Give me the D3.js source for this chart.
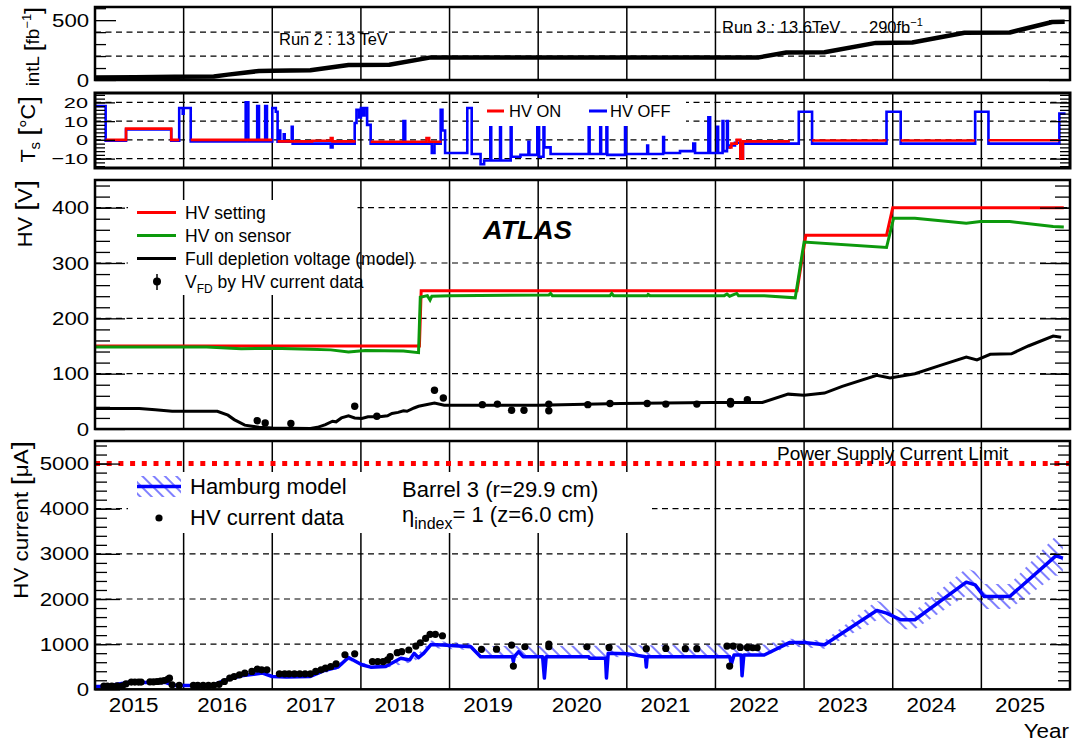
<!DOCTYPE html>
<html><head><meta charset="utf-8">
<script src="https://cdn.jsdelivr.net/npm/d3@7"></script>
<style>body{margin:0;background:#fff}svg{display:block}</style>
</head><body><svg id="c" width="1072" height="745"></svg>
<script>
// ---------------- DATA ----------------
const years = [2015,2016,2017,2018,2019,2020,2021,2022,2023,2024,2025];
const yearLines = [2016,2017,2018,2019,2020,2021,2022,2023,2024,2025];

// integrated luminosity [fb^-1]
const intLumi = [[2015.0,20],[2015.45,22],[2015.9,28],[2016.34,30],[2016.5,45],[2016.85,75],[2017.0,78],[2017.43,82],[2017.86,125],[2018.32,128],[2018.79,189],[2022.49,189],[2022.80,230],[2023.23,232],[2023.81,310],[2024.22,313],[2024.81,395],[2025.32,397],[2025.80,485],[2025.94,487]];

// sensor temperature, HV OFF (full trace) and HV ON segments
const tsOff = [[2015.00,18],[2015.12,-0.5],[2015.35,5.5],[2015.86,-0.5],[2015.95,17],[2015.99,14],[2016.0,17],[2016.08,-0.8],
[2016.70,20],[2016.73,-0.8],[2016.83,18],[2016.85,-0.8],[2016.92,18],[2016.94,-0.8],
[2017.00,17],[2017.04,15],[2017.06,-1],[2017.08,5],[2017.09,-1],[2017.13,3],[2017.14,-1],[2017.22,7],[2017.23,-2],
[2017.66,-4],[2017.68,-2],
[2017.93,9],[2017.95,16],[2017.98,12],[2018.00,17],[2018.02,13],[2018.04,17],[2018.07,8],[2018.11,-2],
[2018.48,10],[2018.50,-2],
[2018.80,-7],[2018.83,-2],[2018.90,16],[2018.92,5],[2018.95,-7],
[2019.20,17],[2019.25,-7.5],[2019.35,-13],[2019.39,-11],[2019.46,7.5],[2019.47,-11],[2019.57,7.5],[2019.58,-11],[2019.69,7.5],[2019.70,-9],
[2019.80,-8],[2019.89,-1],[2019.90,-8],[2019.99,8],[2020.01,-9],[2020.06,8],[2020.07,-4],[2020.14,-7.5],
[2020.57,7],[2020.58,-7.5],[2020.70,8],[2020.71,-7.5],[2020.77,8],[2020.78,-8],[2020.98,8],[2020.99,-7.5],
[2021.23,-3],[2021.24,-7.5],[2021.41,1.5],[2021.42,-7],[2021.60,-6],[2021.75,-2],[2021.77,-7],
[2021.92,12],[2021.94,-7],[2022.02,7],[2022.03,-7],[2022.08,10],[2022.09,-6],[2022.13,10],[2022.14,-4],[2022.16,-3],[2022.22,-1.5],[2022.28,-10],[2022.31,-2],
[2022.94,15],[2023.09,-2],[2023.93,15],[2024.09,-2],[2024.93,15],[2025.08,-2],[2025.88,14],[2025.95,14]];
const tsOn = [
 [[2015.12,0],[2015.35,6],[2015.86,0],[2015.95,0]],
 [[2016.08,0],[2017.0,0]],
 [[2017.06,-0.8],[2017.45,-0.5],[2017.66,1],[2017.68,-0.8],[2017.94,-0.8]],
 [[2018.11,-1],[2018.74,1],[2018.77,-1],[2018.91,-1]],
 [[2022.15,-4],[2022.18,-2],[2022.24,0],[2022.28,-10],[2022.31,-0.8],[2022.84,-0.8]],
 [[2023.09,-0.3],[2023.93,-0.3]],
 [[2024.09,-0.3],[2024.93,-0.3]],
 [[2025.08,-0.2],[2025.88,-0.2]]
];

// HV [V]
const hvSetting = [[2015.0,150],[2018.66,150],[2018.68,250],[2022.92,250],[2023.02,350],[2023.93,350],[2024.0,400],[2025.93,400]];
const hvSensor = [[2015.0,148],[2016.26,148],[2016.65,145],[2017.0,146],[2017.43,144],[2017.66,143],[2017.86,139],[2018.05,142],[2018.48,141],[2018.65,138],[2018.67,238],[2018.75,241],[2018.78,233],[2018.8,240],[2019.0,241],[2020.12,242],[2020.14,245],[2020.16,241],[2020.81,241],[2020.83,245],[2020.85,241],[2021.23,241],[2021.24,243],[2021.26,241],[2022.1,241],[2022.13,244],[2022.16,240],[2022.24,245],[2022.26,241],[2022.55,241],[2022.9,237],[2023.0,338],[2023.93,328],[2024.01,381],[2024.25,381],[2024.83,372],[2024.99,375],[2025.32,375],[2025.81,366],[2025.93,365]];
const vfdModel = [[2015.0,37],[2015.5,37],[2015.68,35],[2015.87,32],[2016.38,32],[2016.5,25],[2016.57,17],[2016.69,7],[2016.85,3],[2017.0,2],[2017.43,1],[2017.51,3],[2017.6,8],[2017.68,14],[2017.72,13],[2017.78,20],[2017.86,24],[2017.93,20],[2018.01,19],[2018.08,22],[2018.21,22],[2018.3,24],[2018.35,28],[2018.42,30],[2018.48,33],[2018.52,32],[2018.6,38],[2018.65,41],[2018.83,47],[2018.94,43],[2020.0,43],[2020.93,46],[2021.94,48],[2022.53,48],[2022.82,63],[2023.0,61],[2023.23,65],[2023.43,77],[2023.82,97],[2023.97,92],[2024.25,100],[2024.52,114],[2024.83,130],[2024.95,125],[2025.1,135],[2025.34,136],[2025.53,150],[2025.81,168],[2025.9,166]];
const vfdData = [[2016.83,15],[2016.92,11],[2017.21,10],[2017.93,41],[2018.18,23],[2018.83,70],[2018.93,56],[2019.37,44],[2019.54,45],[2019.70,34],[2019.84,34],[2020.12,45],[2020.12,33],[2020.56,44],[2020.81,46],[2021.23,46],[2021.44,45],[2021.79,45],[2022.17,50],[2022.17,45],[2022.36,53]];

// HV current [uA]
const hamburgModel = [[2015.0,63],[2015.1,63],[2015.37,150],[2015.8,150],[2015.84,120],[2015.91,85],[2016.11,85],[2016.34,100],[2016.46,196],[2016.65,300],[2016.89,358],[2017.0,284],[2017.16,270],[2017.43,284],[2017.59,417],[2017.74,491],[2017.86,705],[2018.01,543],[2018.11,491],[2018.28,506],[2018.45,686],[2018.55,650],[2018.6,796],[2018.65,700],[2018.71,801],[2018.79,990],[2018.92,980],[2019.24,943],[2019.35,722],[2019.71,722],[2019.72,612],[2019.73,722],[2019.78,833],[2019.83,722],[2020.05,722],[2020.07,250],[2020.09,722],[2020.57,722],[2020.58,686],[2020.76,686],[2020.77,250],[2020.79,800],[2021.0,790],[2021.21,722],[2021.22,494],[2021.23,722],[2022.16,722],[2022.18,560],[2022.21,760],[2022.29,760],[2022.3,300],[2022.32,760],[2022.55,760],[2022.84,1039],[2023.0,1039],[2023.23,988],[2023.82,1747],[2023.93,1688],[2024.09,1540],[2024.25,1540],[2024.83,2373],[2024.93,2314],[2025.03,2056],[2025.32,2056],[2025.84,2955],[2025.92,2904]];
const hamburgBand = [[2015.0,50,80],[2015.37,135,165],[2015.8,135,165],[2015.91,75,95],[2016.34,90,110],[2016.65,270,330],[2016.89,330,390],[2017.0,260,310],[2017.43,260,310],[2017.74,450,530],[2017.86,650,770],[2018.01,500,590],[2018.28,470,550],[2018.6,610,700],[2018.79,920,1080],[2018.92,900,1060],[2019.24,870,1020],[2019.35,700,960],[2020.0,700,960],[2022.55,740,990],[2022.84,950,1120],[2023.23,900,1080],[2023.82,1530,1960],[2023.93,1480,1890],[2024.09,1330,1740],[2024.25,1330,1740],[2024.83,2080,2680],[2024.93,2020,2610],[2025.03,1780,2330],[2025.32,1780,2330],[2025.84,2520,3400],[2025.92,2480,3320]];
const currentData = [[2015.10,73],[2015.14,73],[2015.19,73],[2015.25,77],[2015.31,77],[2015.35,122],[2015.41,159],[2015.45,159],[2015.49,159],[2015.52,159],[2015.62,165],[2015.66,165],[2015.70,173],[2015.74,180],[2015.78,195],[2015.82,220],[2015.84,247],[2015.87,100],[2015.95,85],
[2016.11,85],[2016.16,85],[2016.22,85],[2016.28,85],[2016.34,90],[2016.40,110],[2016.46,173],[2016.52,247],[2016.57,284],[2016.63,321],[2016.69,358],[2016.77,395],[2016.83,446],[2016.88,432],[2016.94,432],
[2017.08,343],[2017.14,343],[2017.19,343],[2017.25,343],[2017.31,343],[2017.37,343],[2017.43,343],[2017.49,395],[2017.55,432],[2017.60,469],[2017.66,505],[2017.72,565],[2017.82,764],[2017.93,786],
[2018.13,616],[2018.19,616],[2018.25,611],[2018.30,650],[2018.33,722],[2018.41,811],[2018.46,833],[2018.54,870],[2018.62,958],[2018.67,1031],[2018.73,1128],[2018.78,1217],[2018.84,1217],[2018.92,1186],
[2019.36,885],[2019.53,889],[2019.70,980],[2019.72,515],[2019.85,943],[2020.12,1002],[2020.12,943],[2020.55,943],[2020.80,928],[2021.22,899],[2021.44,906],[2021.66,899],[2021.79,899],[2022.13,958],[2022.16,515],[2022.20,958],[2022.28,928],[2022.36,928],[2022.42,920],[2022.47,920]];
const currentLimit = 5000;

// tick values
const lumiTicks = [0,500], lumiMinor = [100,200,300,400,600], lumiGrid = [200,400];
const tsTicks = [-10,0,10,20], tsGrid = [-10,0,10,20];
const tsMinor = d3.range(-14,25,2);
const hvTicks = [0,100,200,300,400], hvGrid = [100,200,300,400], hvMinor = d3.range(20,450,20);
const curTicks = [0,1000,2000,3000,4000,5000], curGrid = [1000,2000,3000,4000], curMinor = d3.range(200,5500,200);

// ---------------- DRAWING ----------------
const FONT = '"Liberation Sans", Arial, Helvetica, sans-serif';
const svg = d3.select('#c');
svg.append('rect').attr('width',1072).attr('height',745).attr('fill','#fff');
const defs = svg.append('defs');
const pat = defs.append('pattern').attr('id','hatch').attr('patternUnits','userSpaceOnUse')
  .attr('width',8).attr('height',8).attr('patternTransform','rotate(-45)');
pat.append('line').attr('x1',4).attr('y1',0).attr('x2',4).attr('y2',8).attr('stroke','#0000ff').attr('stroke-width',1);

const X0 = 95, X1 = 1070;
const x = d3.scaleLinear().domain([2015,2026]).range([X0,X1]);

function addText(parent, tx, ty, parts, size, o={}) {
  let tr = `translate(${tx},${ty})`;
  if (o.rot) tr += ` rotate(${o.rot})`;
  if (o.sx) tr += ` scale(${o.sx},1)`;
  const t = parent.append('text').attr('transform', tr).attr('font-size', size)
    .attr('text-anchor', o.anchor||'start').attr('font-family', FONT).attr('fill','#000');
  if (o.weight) t.attr('font-weight', o.weight);
  if (o.style) t.attr('font-style', o.style);
  for (const p of [].concat(parts)) {
    if (typeof p === 'string') t.append('tspan').text(p);
    else {
      const s = t.append('tspan').text(p.t);
      if (p.size) s.attr('font-size', p.size);
      if (p.dy) s.attr('dy', p.dy);
    }
  }
  return t;
}

function panel(key, top, bottom, domain) {
  const y = d3.scaleLinear().domain(domain).range([bottom, top]);
  const g = svg.append('g');
  const id = 'clip-' + key;
  defs.append('clipPath').attr('id', id).append('rect')
    .attr('x', X0).attr('y', top).attr('width', X1 - X0).attr('height', bottom - top);
  const gd = g.append('g').attr('clip-path', `url(#${id})`);
  return {y, g, gd, top, bottom};
}
function hGrid(p, vals) {
  p.gd.append('g').selectAll('line').data(vals).join('line')
    .attr('x1', X0).attr('x2', X1).attr('y1', d => p.y(d)).attr('y2', d => p.y(d))
    .attr('stroke', '#000').attr('stroke-width', 1.2).attr('stroke-dasharray', '6,4.5');
}
function vGrid(p) {
  p.gd.append('g').selectAll('line').data(yearLines).join('line')
    .attr('x1', d => x(d)).attr('x2', d => x(d)).attr('y1', p.top).attr('y2', p.bottom)
    .attr('stroke', '#000').attr('stroke-width', 1.5);
}
function frame(p, w) {
  p.g.append('rect').attr('x', X0).attr('y', p.top).attr('width', X1 - X0).attr('height', p.bottom - p.top)
    .attr('fill', 'none').attr('stroke', '#000').attr('stroke-width', w || 2.5);
}
function yAxes(p, majors, minors, majL, minL, rMajL, rMinL, fs, sx) {
  fs = fs || 19; sx = sx || 1.17;
  const gl = p.g.append('g').attr('transform', `translate(${X0},0)`)
    .call(d3.axisLeft(p.y).tickValues(majors).tickSizeInner(-majL).tickSizeOuter(0).tickPadding(5).tickFormat(d => d < 0 ? '\u2212' + (-d) : String(d)));
  gl.select('.domain').remove();
  gl.attr('font-size', fs).attr('font-family', FONT);
  gl.selectAll('line').attr('stroke', '#000').attr('stroke-width', 1.3);
  gl.selectAll('text').attr('fill', '#000').attr('transform', `scale(${sx},1)`);
  const gm = p.g.append('g').attr('transform', `translate(${X0},0)`)
    .call(d3.axisLeft(p.y).tickValues(minors).tickSizeInner(-minL).tickSizeOuter(0).tickFormat(''));
  gm.select('.domain').remove();
  gm.selectAll('line').attr('stroke', '#000').attr('stroke-width', 1.3);
  const gr = p.g.append('g').attr('transform', `translate(${X1},0)`)
    .call(d3.axisRight(p.y).tickValues(majors).tickSizeInner(-rMajL).tickSizeOuter(0).tickFormat(''));
  gr.select('.domain').remove();
  gr.selectAll('line').attr('stroke', '#000').attr('stroke-width', 1.3);
  const grm = p.g.append('g').attr('transform', `translate(${X1},0)`)
    .call(d3.axisRight(p.y).tickValues(minors).tickSizeInner(-rMinL).tickSizeOuter(0).tickFormat(''));
  grm.select('.domain').remove();
  grm.selectAll('line').attr('stroke', '#000').attr('stroke-width', 1.3);
}
const white = (p, x0, y0, x1, y1) => p.g.append('rect').attr('x', x0).attr('y', y0).attr('width', x1 - x0).attr('height', y1 - y0).attr('fill', '#fff');

// ===== Panel 1: integrated luminosity =====
const P1 = panel('lumi', 7, 80, [0, 610]);
hGrid(P1, lumiGrid); vGrid(P1);
P1.gd.append('path').datum(intLumi)
  .attr('d', d3.line().x(d => x(d[0])).y(d => P1.y(d[1])))
  .attr('fill', 'none').attr('stroke', '#000').attr('stroke-width', 4.5).attr('stroke-linejoin', 'round');
addText(P1.g, 279, 45, 'Run 2 : 13 TeV', 16.5);
addText(P1.g, 722, 33, 'Run 3 : 13.6TeV', 16.5);
addText(P1.g, 869, 33, ['290fb', {t: '\u22121', size: 11, dy: -7}], 16.5);
frame(P1);
yAxes(P1, lumiTicks, lumiMinor, 21, 11, 21, 10);
addText(svg, 39, 7, ['intL ', {t: '[', size: 23, dy: 2}, {t: 'fb', dy: -2}, {t: '\u22121', size: 12, dy: -8}, {t: ']', size: 23, dy: 10}], 17.5, {rot: -90, anchor: 'end', sx: 1.08});

// ===== Panel 2: temperature =====
const P2 = panel('ts', 93, 168, [-15, 25]);
hGrid(P2, tsGrid); vGrid(P2);
const tsLine = d3.line().x(d => x(d[0])).y(d => P2.y(d[1])).curve(d3.curveStepAfter);
P2.gd.append('path').datum(tsOff).attr('d', tsLine).attr('fill', 'none').attr('stroke', '#0000ff').attr('stroke-width', 2.6);
P2.gd.append('g').selectAll('path').data(tsOn).join('path').attr('d', tsLine)
  .attr('fill', 'none').attr('stroke', '#ff0000').attr('stroke-width', 2.6);
white(P2, 480, 98, 686, 126);
P2.g.append('line').attr('x1', 487).attr('x2', 504).attr('y1', 111).attr('y2', 111).attr('stroke', '#ff0000').attr('stroke-width', 3);
addText(P2.g, 509, 117, 'HV ON', 16.5);
P2.g.append('line').attr('x1', 589).attr('x2', 607).attr('y1', 111).attr('y2', 111).attr('stroke', '#0000ff').attr('stroke-width', 3);
addText(P2.g, 610, 117, 'HV OFF', 16.5);
frame(P2, 3);
yAxes(P2, tsTicks, tsMinor, 20, 10, 20, 10, 15.5, 1.4);
addText(svg, 35, 96, ['T', {t: 's', size: 14, dy: 5}, {t: ' ', dy: -5}, {t: '[', size: 26, dy: 2}, {t: '\u00B0C', dy: -2}, {t: ']', size: 26, dy: 2}], 20, {rot: -90, anchor: 'end', sx: 1.08});

// ===== Panel 3: HV =====
const P3 = panel('hv', 180, 429, [0, 450]);
hGrid(P3, hvGrid); vGrid(P3);
const hvLine = d3.line().x(d => x(d[0])).y(d => P3.y(d[1]));
P3.gd.append('path').datum(hvSetting).attr('d', hvLine).attr('fill', 'none').attr('stroke', '#ff0000').attr('stroke-width', 3);
P3.gd.append('path').datum(hvSensor).attr('d', hvLine).attr('fill', 'none').attr('stroke', '#0c990c').attr('stroke-width', 3);
P3.gd.append('path').datum(vfdModel).attr('d', hvLine).attr('fill', 'none').attr('stroke', '#000').attr('stroke-width', 3);
P3.gd.append('g').selectAll('circle').data(vfdData).join('circle')
  .attr('cx', d => x(d[0])).attr('cy', d => P3.y(d[1])).attr('r', 3.7).attr('fill', '#000');
white(P3, 128, 200, 355, 295);
const lg3 = [['HV setting', '#ff0000'], ['HV on sensor', '#0c990c'], ['Full depletion voltage (model)', '#000']];
lg3.forEach((e, i) => {
  const yy = 212.5 + i * 23;
  P3.g.append('line').attr('x1', 137).attr('x2', 176).attr('y1', yy).attr('y2', yy).attr('stroke', e[1]).attr('stroke-width', 3);
  addText(P3.g, 185, yy + 6, e[0], 17.5);
});
P3.g.append('line').attr('x1', 157).attr('x2', 157).attr('y1', 274).attr('y2', 290).attr('stroke', '#000').attr('stroke-width', 1.5);
P3.g.append('circle').attr('cx', 157).attr('cy', 281.5).attr('r', 4).attr('fill', '#000');
addText(P3.g, 185, 287.5, ['V', {t: 'FD', size: 12, dy: 5}, {t: ' by HV current data', dy: -5}], 17.5);
addText(P3.g, 483, 239, 'ATLAS', 26, {weight: 'bold', style: 'italic', sx: 1.05});
frame(P3);
yAxes(P3, hvTicks, hvMinor, 30, 15, 30, 15);
addText(svg, 31.5, 180, ['HV ', {t: '[', size: 26, dy: 2}, {t: 'V', dy: -2}, {t: ']', size: 26, dy: 2}], 19.5, {rot: -90, anchor: 'end', sx: 1.12});

// ===== Panel 4: HV current =====
const P4 = panel('cur', 441, 689.3, [0, 5500]);
hGrid(P4, curGrid); vGrid(P4);
P4.gd.append('path').datum(hamburgBand)
  .attr('d', d3.area().x(d => x(d[0])).y0(d => P4.y(d[1])).y1(d => P4.y(d[2])))
  .attr('fill', 'url(#hatch)').attr('stroke', 'none');
P4.gd.append('path').datum(hamburgModel)
  .attr('d', d3.line().x(d => x(d[0])).y(d => P4.y(d[1])))
  .attr('fill', 'none').attr('stroke', '#0000ff').attr('stroke-width', 3.5).attr('stroke-linejoin', 'round');
P4.gd.append('g').selectAll('circle').data(currentData).join('circle')
  .attr('cx', d => x(d[0])).attr('cy', d => P4.y(d[1])).attr('r', 3.6).attr('fill', '#000');
P4.gd.append('line').attr('x1', X0).attr('x2', X1).attr('y1', P4.y(currentLimit)).attr('y2', P4.y(currentLimit))
  .attr('stroke', '#ff0000').attr('stroke-width', 5).attr('stroke-dasharray', '5,6.7');
addText(P4.g, 777, 460, 'Power Supply Current Limit', 19);
white(P4, 128, 472, 652, 533);
P4.g.append('rect').attr('x', 137).attr('y', 476).attr('width', 44).attr('height', 21).attr('fill', 'url(#hatch)');
P4.g.append('line').attr('x1', 137).attr('x2', 181).attr('y1', 486.5).attr('y2', 486.5).attr('stroke', '#0000ff').attr('stroke-width', 3.5);
addText(P4.g, 190, 494, 'Hamburg model', 22);
P4.g.append('circle').attr('cx', 159).attr('cy', 518).attr('r', 3.6).attr('fill', '#000');
addText(P4.g, 190, 525, 'HV current data', 22);
addText(P4.g, 402, 497, 'Barrel 3 (r=29.9 cm)', 22);
addText(P4.g, 402, 522, ['\u03B7', {t: 'index', size: 16, dy: 7}, {t: '= 1 (z=6.0 cm)', dy: -7}], 22);
frame(P4);
yAxes(P4, curTicks, curMinor, 25, 12, 20, 12);
addText(svg, 27.5, 441, ['HV current ', {t: '[', size: 26, dy: 2}, {t: '\u03BCA', dy: -2}, {t: ']', size: 26, dy: 2}], 19.5, {rot: -90, anchor: 'end', sx: 1.15});

// x axis labels (centered within each year)
const gx = svg.append('g').attr('transform', `translate(0,${P4.bottom})`)
  .call(d3.axisBottom(x).tickValues(years.map(v => v + 0.43)).tickSize(0).tickPadding(9).tickFormat((d, i) => String(years[i])));
gx.select('.domain').remove();
gx.attr('font-size', 19.5).attr('font-family', FONT);
gx.selectAll('text').attr('fill', '#000').attr('transform', 'scale(1.15,1)');
addText(svg, 1069, 738, 'Year', 19.5, {anchor: 'end', sx: 1.15});
</script></body></html>
